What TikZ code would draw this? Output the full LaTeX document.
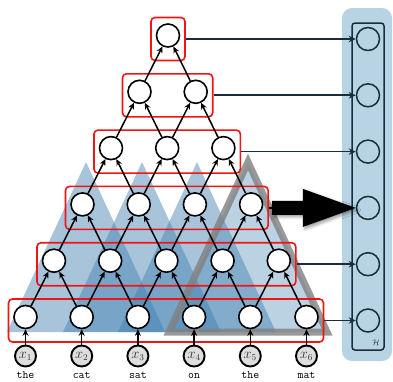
\documentclass[tikz,border=0pt]{standalone}
\usetikzlibrary{arrows.meta,fit,calc,shadows.blur}
\definecolor{triblue}{RGB}{60,125,175}
\definecolor{panelblue}{RGB}{184,212,228}
\definecolor{hdark}{RGB}{25,45,60}
\definecolor{boxred}{RGB}{240,20,20}
\begin{document}
\begin{tikzpicture}[x=1pt,y=-1pt]
\tikzset{
 tri/.style={fill=triblue,fill opacity=0.45,draw=none},
 gtri/.style={fill=triblue,fill opacity=0.35,draw=black!50,draw opacity=0.8,line width=7pt},
 unit/.style={circle,draw=black,fill=white,line width=1.6pt,minimum size=23pt,inner sep=0pt},
 inp/.style={circle,draw=black,fill=black!13,line width=1.9pt,minimum size=21pt,inner sep=0pt,font=\fontsize{13.5}{14}\selectfont,text=black!80},
 word/.style={font=\fontsize{11.5}{13}\selectfont\ttfamily,inner sep=0pt},
 edge/.style={line width=1.5pt,-{Stealth[length=6.5pt,width=6pt]}},
 redbox/.style={draw=boxred,line width=1.6pt,rounded corners=4pt,inner sep=0pt},
 hunit/.style={circle,draw=hdark,line width=1.5pt,minimum size=23pt,inner sep=0pt},
 harrow/.style={draw=hdark,line width=1.7pt,-{Stealth[length=7pt,width=6.5pt]}},
}
\useasboundingbox (0,0) rectangle (393,381);
% triangles
\foreach \a in {86,142,197} {
  \path[tri] (\a-79,332) -- (\a,162) -- (\a+79,332) -- cycle;
}
\path[gtri] (169,332) -- (248,162) -- (327,332) -- cycle;
% panel
\fill[panelblue,rounded corners=10pt] (342,8) rectangle (392,361);
\draw[hdark,line width=1.5pt,rounded corners=3pt] (352,23) rectangle (384,350);
\node[font=\fontsize{8}{9}\selectfont,text=hdark] (hl) at (376,343) {$\mathcal{H}$};
% units
\foreach \k in {0,...,5} {
  \pgfmathtruncatemacro\m{5-\k}
  \foreach \i in {0,...,\m}
    \node[unit] (n-\k-\i) at ({25.5+56.2*\i+28.5*\k},{317-56.3*\k}) {};
}
% boxes
\coordinate (hx) at (368,0);
\foreach \k in {0,...,5} {
  \pgfmathtruncatemacro\m{5-\k}
  \coordinate (bl-\k) at ($(n-\k-0.center)+(-17,-18)$);
  \coordinate (br-\k) at ($(n-\k-\m.center)+(17,25)$);
  \node[redbox,fit=(bl-\k)(br-\k)] (box-\k) {};
  \node[hunit] (h-\k) at (box-\k.center -| hx) {};
}
\foreach \k in {0,1,3,4,5} \draw[harrow] (box-\k.east) -- (h-\k.west);
% big arrow
\path[fill=black,blur shadow={shadow xshift=2pt,shadow yshift=-2pt,shadow blur radius=3pt}]
  ($(box-2.east)+(3,-7)$) -- ($(box-2.east)+(34,-7)$) -- ($(box-2.east)+(34,-19)$)
  -- (h-2.west) -- ($(box-2.east)+(34,19)$) -- ($(box-2.east)+(34,7)$)
  -- ($(box-2.east)+(3,7)$) -- cycle;
\draw[line width=1.4pt] (box-2.east) -- ++(4,0);
% edges
\foreach \k in {1,...,5} {
  \pgfmathtruncatemacro\m{5-\k}
  \pgfmathtruncatemacro\p{\k-1}
  \foreach \j in {0,...,\m} {
    \pgfmathtruncatemacro\q{\j+1}
    \draw[edge] (n-\p-\j) -- (n-\k-\j);
    \draw[edge] (n-\p-\q) -- (n-\k-\j);
  }
}
% inputs
\foreach \i/\w [count=\c] in {0/the,1/cat,2/sat,3/on,4/the,5/mat} {
  \node[inp] (x-\i) at ({25.5+56.2*\i},356) {$x_{\c}$};
  \node[word] (w-\i) at ({25.5+56.2*\i},375.5) {\w};
  \draw[edge] (x-\i) -- (n-0-\i);
}
\end{tikzpicture}
\end{document}
